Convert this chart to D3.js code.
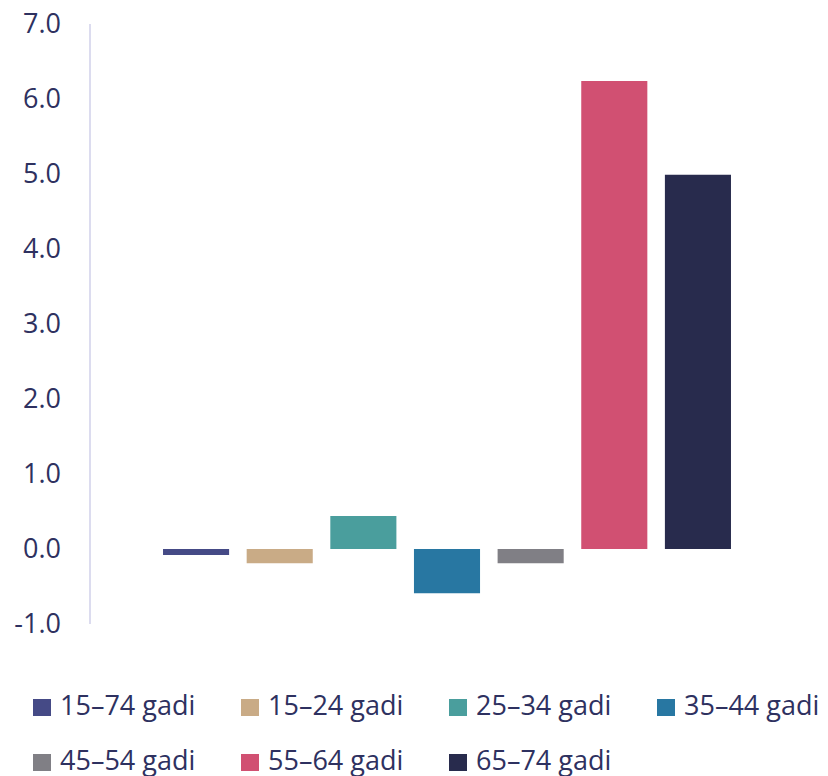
<!DOCTYPE html>
<html><head><meta charset="utf-8">
<script src="https://cdn.jsdelivr.net/npm/d3@7"></script>
<style>html,body{margin:0;padding:0;background:#fff;}svg{display:block;}</style>
</head><body>
<svg id="chart" width="828" height="776"></svg>
<script>
const categories = ["15–74 gadi","15–24 gadi","25–34 gadi","35–44 gadi","45–54 gadi","55–64 gadi","65–74 gadi"];
const values = [-0.08, -0.19, 0.44, -0.59, -0.19, 6.24, 4.99];
const colors = ["#454a86","#c9ab86","#4a9e9d","#2877a2","#807f85","#d15072","#282b4d"];
const yTicks = [-1,0,1,2,3,4,5,6,7];

const svg = d3.select("#chart");
const font = "'Open Sans', sans-serif";
const textColor = "#2e3160";

const y = d3.scaleLinear().domain([-1,7]).range([624,24]);
const x = d3.scaleBand().domain(categories).range([90,804]).paddingInner(0.21).paddingOuter(0.873);

// axis line
svg.append("line").attr("x1",90).attr("x2",90).attr("y1",y(7)).attr("y2",y(-1))
  .attr("stroke","#dcdcef").attr("stroke-width",2);

// tick labels
svg.append("g").selectAll("text").data(yTicks).join("text")
  .attr("x",61).attr("y",d=>y(d)).attr("dy","0.35em")
  .attr("text-anchor","end").attr("font-family",font).attr("font-size",27)
  .attr("fill",textColor).text(d=>d.toFixed(1));

// bars
svg.append("g").selectAll("rect").data(values).join("rect")
  .attr("x",(d,i)=>x(categories[i])).attr("width",x.bandwidth())
  .attr("y",d=>y(Math.max(0,d))).attr("height",d=>Math.abs(y(d)-y(0)))
  .attr("fill",(d,i)=>colors[i]);

// legend
const lg = svg.append("g");
categories.forEach((c,i)=>{
  const col = i%4, row = Math.floor(i/4);
  const lx = 33 + col*208, ly = 715 + row*55;
  lg.append("rect").attr("x",lx).attr("y",ly-16).attr("width",18).attr("height",17).attr("fill",colors[i]);
  lg.append("text").attr("x",lx+27).attr("y",ly).attr("font-family",font).attr("font-size",27)
    .attr("fill",textColor).text(c);
});
</script>
</body></html>
